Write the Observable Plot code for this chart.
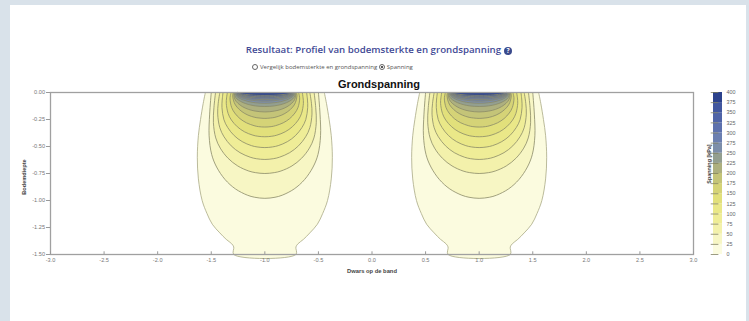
<!DOCTYPE html>
<html>
<head>
<meta charset="utf-8">
<script src="https://cdn.jsdelivr.net/npm/d3@7"></script>
<script src="https://cdn.jsdelivr.net/npm/@observablehq/plot@0.6"></script>
<style>
  html, body { margin: 0; padding: 0; }
  body { width: 749px; height: 321px; background: #d9e2ea; position: relative; overflow: hidden; font-family: "Liberation Sans", Arial, sans-serif; }
  #panel { position: absolute; left: 10px; top: 5px; width: 736px; height: 330px; background: #ffffff; }
  .abs { position: absolute; white-space: nowrap; }
  #title { left: 0; width: 758px; top: 43px; text-align: center; font-family: "Open Sans", sans-serif; font-size: 9.7px; font-weight: 600; color: #424a96; }
  #title .q { display: inline-block; width: 8px; height: 8px; border-radius: 50%; background: #3a4a8c; color: #fff; font-size: 6.5px; line-height: 8px; text-align: center; vertical-align: 0px; margin-left: 3px; font-weight: 700; }
  #radios { left: 252px; top: 63px; font-family: "Open Sans", sans-serif; font-size: 6px; color: #555; }
  .rb { display: inline-block; width: 6px; height: 6px; border-radius: 50%; border: 0.8px solid #666; vertical-align: -1px; margin-right: 2px; box-sizing: border-box; }
  .rb.on { background: radial-gradient(circle, #555 45%, #fff 55%); }
  #ptitle { left: 0; width: 758px; top: 78px; text-align: center; font-size: 11px; font-weight: 700; color: #111; }
  #ylab { left: 24px; top: 177px; font-size: 5.6px; font-weight: 700; color: #444; transform: translate(-50%, -50%) rotate(-90deg); }
  #xlab { left: 372px; top: 271px; font-size: 5.8px; font-weight: 700; color: #444; transform: translate(-50%, -50%); }
  #clab { left: 709px; top: 164px; font-size: 5.4px; font-weight: 700; color: #444; transform: translate(-50%, -50%) rotate(-90deg); }
  #main, #cbar { position: absolute; top: 0; }
  #main { left: 0; }
  #cbar { left: 700px; }
</style>
</head>
<body>
<div id="panel"></div>
<div id="title" class="abs">Resultaat: Profiel van bodemsterkte en grondspanning<span class="q">?</span></div>
<div id="radios" class="abs"><span class="rb"></span>Vergelijk bodemsterkte en grondspanning <span class="rb on"></span>Spanning</div>
<div id="main"></div>
<div id="cbar"></div>
<div id="ptitle" class="abs">Grondspanning</div>
<div id="ylab" class="abs">Bodemdiepte</div>
<div id="xlab" class="abs">Dwars op de band</div>
<div id="clab" class="abs">Spanning [kPa]</div>
<script>
// ---- data ----
const loadCenters = [-1, 1];
const levels = [25, 50, 75, 100, 125, 150, 175, 200, 225, 250, 275, 300, 325, 350, 375, 400];
const levelColors = ["#fbfbdf", "#f7f6c4", "#f3f1ab", "#efed97", "#eae888", "#e2e07b", "#d5d377", "#c4c478",
                     "#adb07f", "#939f90", "#7c8eaa", "#6b7fb0", "#5d71ad", "#4f64a7", "#41579f", "#2c428c"];
const colorbarTicks = [0, 25, 50, 75, 100, 125, 150, 175, 200, 225, 250, 275, 300, 325, 350, 375, 400];
const xTicks = [-3, -2.5, -2, -1.5, -1, -0.5, 0, 0.5, 1, 1.5, 2, 2.5, 3];
const yTicks = [0, -0.25, -0.5, -0.75, -1, -1.25, -1.5];
// contour profiles: [depth below surface, half width from load centre], one list per level
const contourProfiles = [
  [[0,0.555],[0.1,0.575],[0.25,0.60],[0.4,0.62],[0.6,0.63],[0.8,0.62],[1.0,0.585],[1.12,0.54],[1.22,0.49],[1.3,0.42],[1.36,0.36],[1.4,0.31],[1.43,0.29],[1.5,0.29]],
  [[0,0.50],[0.2,0.515],[0.4,0.52],[0.574,0.496],[0.69,0.45],[0.806,0.371],[0.893,0.274],[0.951,0.162],[0.97,0.095],[0.98,0]],
  [[0,0.46],[0.14,0.475],[0.28,0.48],[0.421,0.458],[0.515,0.416],[0.609,0.343],[0.68,0.253],[0.727,0.15],[0.742,0.088],[0.75,0]],
  [[0,0.42],[0.1,0.435],[0.2,0.44],[0.326,0.42],[0.41,0.381],[0.494,0.314],[0.557,0.232],[0.599,0.137],[0.613,0.079],[0.62,0]],
  [[0,0.39],[0.07,0.398],[0.14,0.40],[0.251,0.382],[0.325,0.346],[0.399,0.286],[0.455,0.211],[0.492,0.125],[0.504,0.072],[0.51,0]],
  [[0,0.35],[0.05,0.357],[0.1,0.36],[0.193,0.343],[0.255,0.312],[0.317,0.257],[0.364,0.19],[0.395,0.112],[0.405,0.065],[0.41,0]],
  [[0,0.315],[0.03,0.322],[0.06,0.325],[0.138,0.31],[0.19,0.281],[0.242,0.232],[0.281,0.171],[0.307,0.101],[0.316,0.059],[0.32,0]],
  [[0,0.295],[0.03,0.30],[0.093,0.286],[0.135,0.26],[0.177,0.214],[0.209,0.158],[0.23,0.094],[0.236,0.054],[0.24,0]],
  [[0,0.288],[0.02,0.29],[0.068,0.277],[0.1,0.251],[0.132,0.207],[0.156,0.153],[0.172,0.09],[0.18,0]],
  [[0,0.284],[0.01,0.285],[0.046,0.272],[0.07,0.247],[0.094,0.203],[0.112,0.15],[0.124,0.089],[0.13,0]],
  [[0,0.28],[0.03,0.267],[0.05,0.242],[0.07,0.2],[0.085,0.148],[0.095,0.087],[0.10,0]],
  [[0,0.275],[0.024,0.262],[0.04,0.238],[0.056,0.196],[0.068,0.145],[0.076,0.086],[0.08,0]],
  [[0,0.27],[0.02,0.258],[0.033,0.234],[0.046,0.193],[0.056,0.142],[0.063,0.084],[0.066,0]],
  [[0,0.265],[0.016,0.253],[0.026,0.229],[0.036,0.189],[0.044,0.14],[0.05,0.083],[0.052,0]],
  [[0,0.26],[0.012,0.248],[0.02,0.225],[0.028,0.186],[0.034,0.137],[0.038,0.081],[0.04,0]],
  [[0,0.25],[0.008,0.239],[0.013,0.217],[0.018,0.179],[0.022,0.132],[0.025,0.078],[0.026,0]]
];

// ---- build closed outlines (left side down, right side up) ----
function outline(levelIndex) {
  const prof = contourProfiles[levelIndex];
  const rows = [];
  for (const c of loadCenters) {
    const key = levels[levelIndex] + "_" + c;
    prof.forEach(([d, hw]) => rows.push({key, x: c - hw, y: -d}));
    prof.slice().reverse().forEach(([d, hw], j) => {
      if (j === 0 && hw === 0) return;
      rows.push({key, x: c + hw, y: -d});
    });
  }
  return rows;
}

const fmt2 = d => d.toFixed(2);
const fmt1 = d => d.toFixed(1);
const tickStyle = {fontSize: "5.6px", fontFamily: "Liberation Sans, Arial, sans-serif"};

const contourMarks = levels.map((lv, i) =>
  Plot.line(outline(i), {
    x: "x", y: "y", z: "key",
    fill: levelColors[i],
    stroke: i === 0 ? "#a9a985" : "#8a8a68",
    strokeWidth: 0.8,
    curve: "catmull-rom"
  })
);

const main = Plot.plot({
  width: 749, height: 290,
  marginLeft: 50, marginRight: 56, marginTop: 92, marginBottom: 36,
  style: {background: "transparent", color: "#666", ...tickStyle},
  x: {domain: [-3, 3]},
  y: {domain: [-1.5, 0]},
  marks: [
    ...contourMarks,
    Plot.frame({stroke: "#a0a0a0", strokeWidth: 1.3}),
    Plot.ruleX(xTicks, {y1: -1.5, y2: -1.475, stroke: "#999"}),
    Plot.axisX({ticks: xTicks, tickSize: 0, tickPadding: 4, tickFormat: fmt1, label: null, fill: "#777"}),
    Plot.axisY({ticks: yTicks, tickSize: 4, tickPadding: 1.5, tickFormat: fmt2, label: null, fill: "#777", stroke: "#999"})
  ]
});
document.getElementById("main").appendChild(main);

// ---- colour bar ----
const bands = levels.map((lv, i) => ({lo: lv - 25, hi: lv, color: levelColors[i]}));
const cbar = Plot.plot({
  width: 49, height: 290,
  marginLeft: 13, marginRight: 27, marginTop: 92, marginBottom: 36,
  style: {background: "transparent", color: "#666", ...tickStyle, fontSize: "5.4px"},
  x: {domain: [0, 1], axis: null},
  y: {domain: [0, 400]},
  marks: [
    Plot.rectY(bands, {x1: () => 0, x2: () => 1, y1: "lo", y2: "hi", fill: "color"}),
    Plot.ruleY(colorbarTicks, {x1: () => -0.25, x2: () => 0.6, stroke: "#7d7d5c", strokeWidth: 0.9, strokeOpacity: 0.85}),
    Plot.axisY({anchor: "right", ticks: colorbarTicks, tickSize: 0, tickPadding: 4, label: null, fill: "#666", textAnchor: "start"})
  ]
});
document.getElementById("cbar").appendChild(cbar);
</script>
</body>
</html>
